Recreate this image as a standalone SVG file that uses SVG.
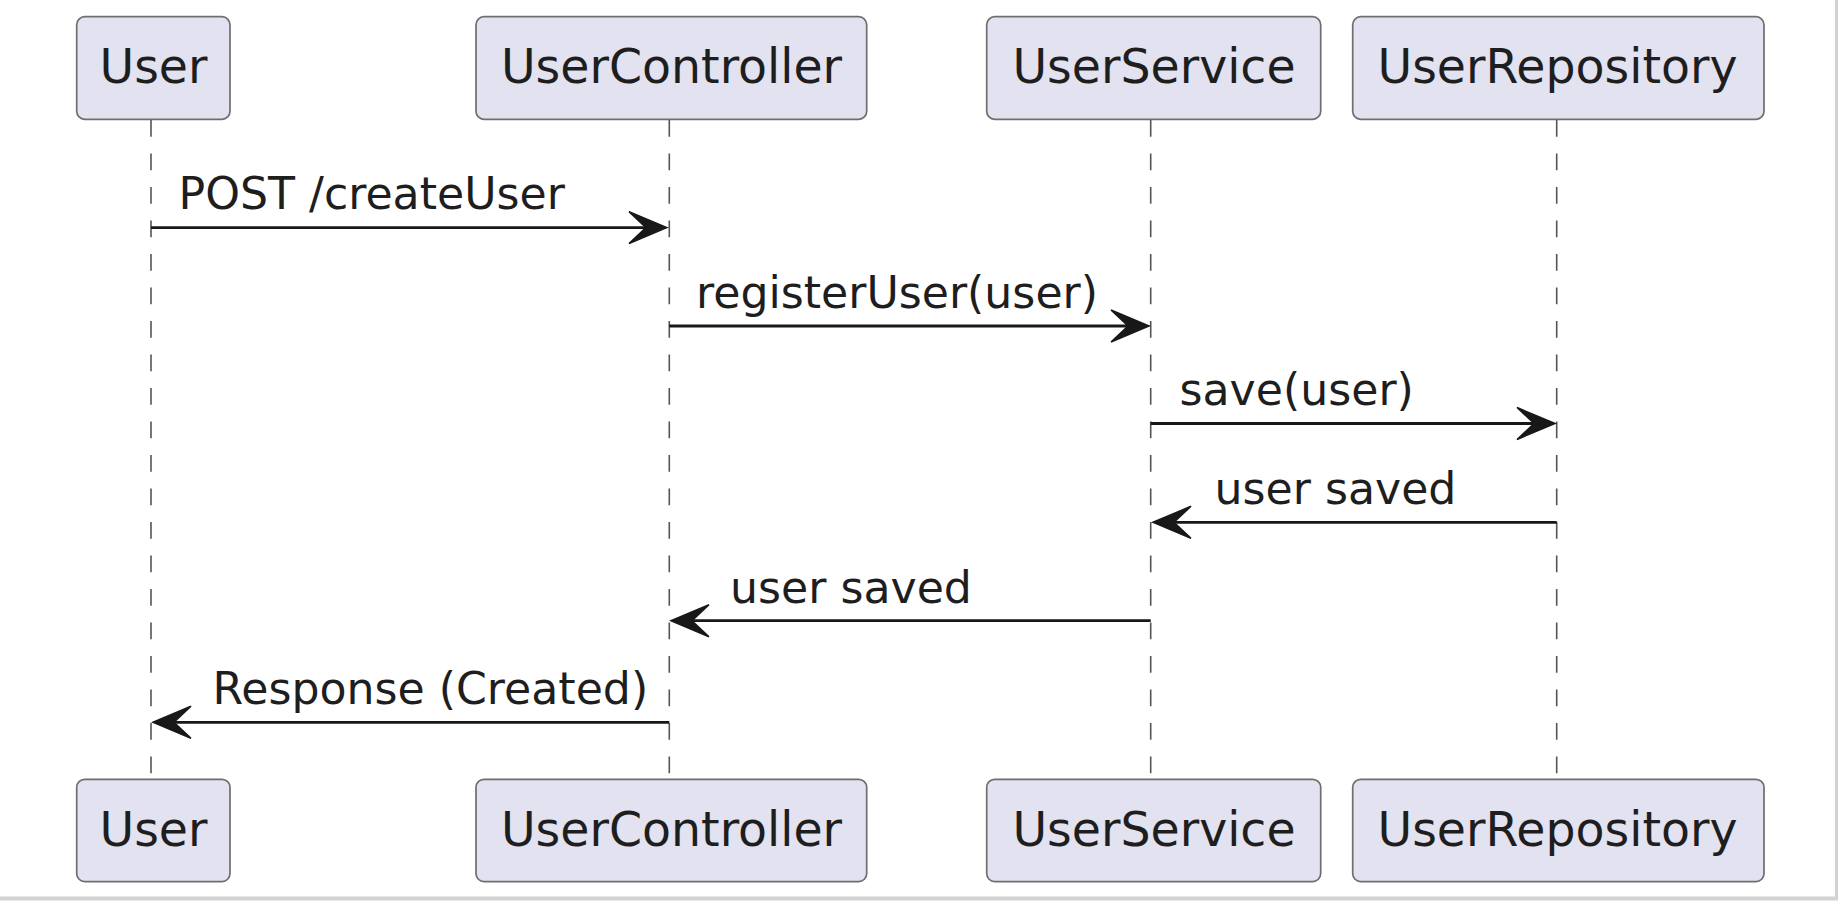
<svg xmlns="http://www.w3.org/2000/svg" width="1838" height="906" viewBox="0 0 1838 906">
<style>
.box{fill:#E2E2F0;stroke:#6e6e6e;stroke-width:1.7}
.pt{font-family:"DejaVu Sans",sans-serif;font-size:47.4px;fill:#1e1e1e;text-anchor:middle}
.mt{font-family:"DejaVu Sans",sans-serif;font-size:44.2px;fill:#1e1e1e}
.life{stroke:#555;stroke-width:1.6;stroke-dasharray:16.75 16.75;fill:none}
.msg{stroke:#181818;stroke-width:2.8;fill:none}
.head{fill:#181818;stroke:#181818;stroke-width:1.5;stroke-linejoin:miter}
</style>
<defs>
<polygon id="ah" points="0,0 -38,-16 -21,0 -38,16"/>
</defs>
<rect width="1838" height="906" fill="#ffffff"/>
<rect x="1835" y="0" width="3" height="900" fill="#d2d2d2"/>
<rect x="0" y="896.5" width="1838" height="4" fill="#d2d2d2"/>

<g id="lifelines">
<line class="life" x1="151" y1="120" x2="151" y2="779"/>
<line class="life" x1="669.3" y1="120" x2="669.3" y2="779"/>
<line class="life" x1="1150.7" y1="120" x2="1150.7" y2="779"/>
<line class="life" x1="1556.7" y1="120" x2="1556.7" y2="779"/>
</g>

<g id="User">
<rect class="box" x="76.7" y="16.7" width="153.3" height="102.6" rx="8"/>
<text class="pt" x="153.5" y="83.3">User</text>
<rect class="box" x="76.7" y="779.3" width="153.3" height="102.3" rx="8"/>
<text class="pt" x="153.5" y="845.9">User</text>
</g>
<g id="UserController">
<rect class="box" x="476" y="16.7" width="390.7" height="102.6" rx="8"/>
<text class="pt" x="671.5" y="83.3">UserController</text>
<rect class="box" x="476" y="779.3" width="390.7" height="102.3" rx="8"/>
<text class="pt" x="671.5" y="845.9">UserController</text>
</g>
<g id="UserService">
<rect class="box" x="986.7" y="16.7" width="334" height="102.6" rx="8"/>
<text class="pt" x="1154" y="83.3">UserService</text>
<rect class="box" x="986.7" y="779.3" width="334" height="102.3" rx="8"/>
<text class="pt" x="1154" y="845.9">UserService</text>
</g>
<g id="UserRepository">
<rect class="box" x="1352.7" y="16.7" width="411.3" height="102.6" rx="8"/>
<text class="pt" x="1557.5" y="83.3">UserRepository</text>
<rect class="box" x="1352.7" y="779.3" width="411.3" height="102.3" rx="8"/>
<text class="pt" x="1557.5" y="845.9">UserRepository</text>
</g>

<g id="connectors">
<line class="msg" x1="151" y1="227.6" x2="650" y2="227.6"/>
<use href="#ah" class="head" transform="translate(667,227.6)"/>
<text class="mt" x="178.5" y="208.5">POST /createUser</text>

<line class="msg" x1="669.3" y1="326" x2="1132" y2="326"/>
<use href="#ah" class="head" transform="translate(1149,326)"/>
<text class="mt" x="696" y="307.5">registerUser(user)</text>

<line class="msg" x1="1150.7" y1="423.5" x2="1538" y2="423.5"/>
<use href="#ah" class="head" transform="translate(1555,423.5)"/>
<text class="mt" x="1179.5" y="405">save(user)</text>

<line class="msg" x1="1556.7" y1="522.3" x2="1170" y2="522.3"/>
<use href="#ah" class="head" transform="translate(1153,522.3) scale(-1,1)"/>
<text class="mt" x="1214.5" y="504">user saved</text>

<line class="msg" x1="1150.7" y1="620.7" x2="688" y2="620.7"/>
<use href="#ah" class="head" transform="translate(671,620.7) scale(-1,1)"/>
<text class="mt" x="730" y="602.5">user saved</text>

<line class="msg" x1="669.3" y1="722.3" x2="170" y2="722.3"/>
<use href="#ah" class="head" transform="translate(153,722.3) scale(-1,1)"/>
<text class="mt" x="212.5" y="703.8">Response (Created)</text>
</g>
</svg>
